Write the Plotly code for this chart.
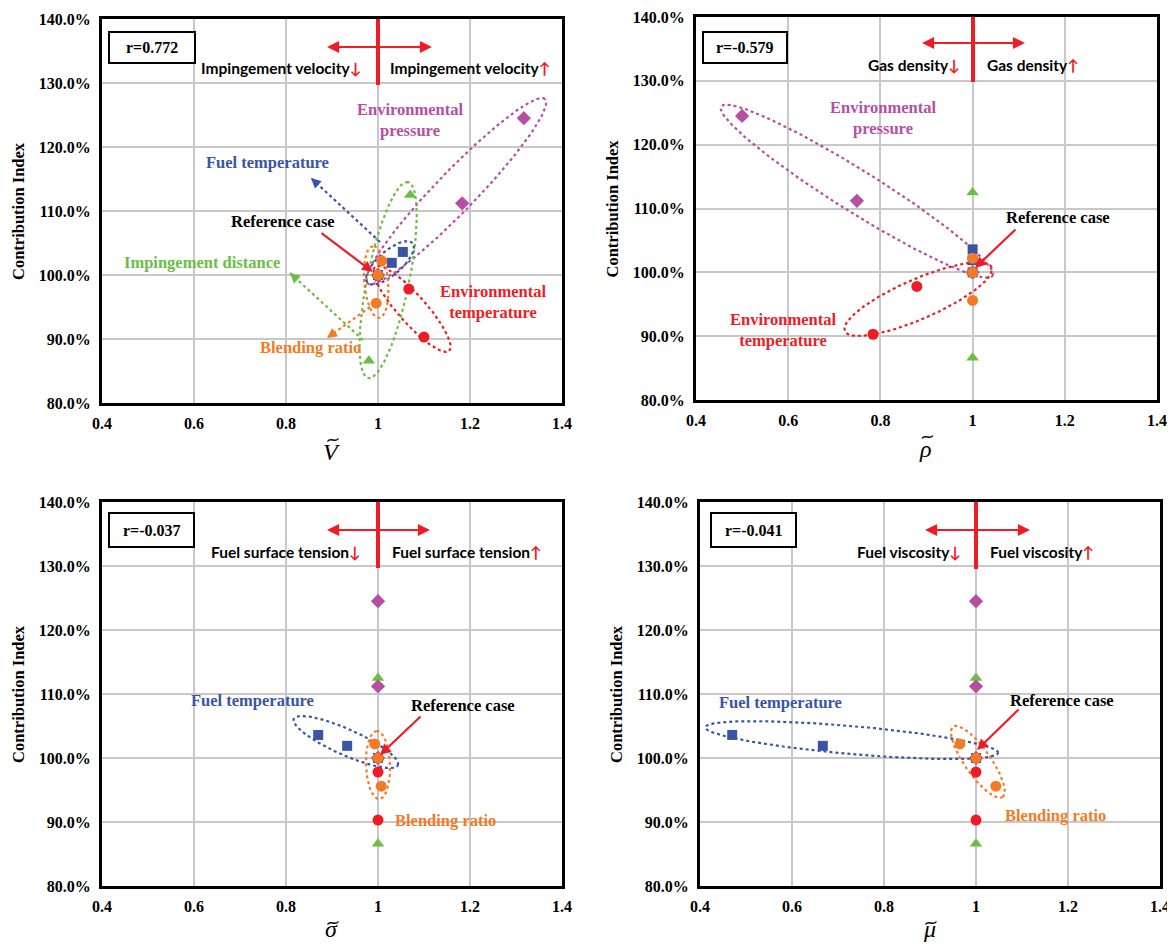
import numpy as np
import plotly.graph_objects as go

# The page body has an 8px default margin; all layout pixel positions below are
# given in window pixels and converted to figure pixels with OFF.
OFF = 8
W, H = 1175 - OFF, 944 - OFF

# ---------------- data ----------------
ci_fuel_temp = [1.000, 1.019, 1.036]
ci_blend = [1.000, 1.022, 0.956]
ci_env_temp = [1.000, 0.978, 0.903]
ci_env_press = [1.000, 1.112, 1.245]
ci_imp_dist = [1.000, 1.125, 0.866]

# panel 1: impingement velocity ratio
V_fuel_temp = [1.000, 1.030, 1.054]
V_blend = [1.000, 1.008, 0.996]
V_env_temp = [1.000, 1.067, 1.100]
V_env_press = [1.000, 1.183, 1.317]
V_imp_dist = [1.000, 1.070, 0.980]

# panel 2: gas density ratio
rho_fuel_temp = [1.000, 1.000, 1.000]
rho_blend = [1.000, 1.000, 1.000]
rho_env_temp = [1.000, 0.879, 0.784]
rho_env_press = [1.000, 0.749, 0.500]
rho_imp_dist = [1.000, 1.000, 1.000]

# panel 3: surface tension ratio
sig_fuel_temp = [1.000, 0.933, 0.870]
sig_blend = [1.000, 0.993, 1.007]
sig_env_temp = [1.000, 1.000, 1.000]
sig_env_press = [1.000, 1.000, 1.000]
sig_imp_dist = [1.000, 1.000, 1.000]

# panel 4: viscosity ratio
mu_fuel_temp = [1.000, 0.667, 0.470]
mu_blend = [1.000, 0.965, 1.043]
mu_env_temp = [1.000, 1.000, 1.000]
mu_env_press = [1.000, 1.000, 1.000]
mu_imp_dist = [1.000, 1.000, 1.000]

r_labels = ["r=0.772", "r=-0.579", "r=-0.037", "r=-0.041"]
x_titles = ["V", "\u03c1", "\u03c3", "\u03bc"]
param_names = ["Impingement velocity", "Gas density", "Fuel surface tension", "Fuel viscosity"]
y_ticks = [0.8, 0.9, 1.0, 1.1, 1.2, 1.3, 1.4]
x_ticks = [0.4, 0.6, 0.8, 1.0, 1.2, 1.4]

# ---------------- styles ----------------
C_BLUE = "#3A55A6"
C_ORANGE = "#F47B25"
C_RED = "#EE1D25"
C_GREEN = "#6CBD45"
C_PURPLE = "#B64FA2"
SERIF = "Liberation Serif"
SANS = "Lato"

# panel pixel boxes in window pixels (left, top, right, bottom)
boxes = [(102, 19, 562, 403), (696, 17, 1157, 400), (102, 502, 562, 886), (700, 502, 1160, 886)]

fig = go.Figure()

panels = [
    (V_fuel_temp, V_blend, V_env_temp, V_env_press, V_imp_dist),
    (rho_fuel_temp, rho_blend, rho_env_temp, rho_env_press, rho_imp_dist),
    (sig_fuel_temp, sig_blend, sig_env_temp, sig_env_press, sig_imp_dist),
    (mu_fuel_temp, mu_blend, mu_env_temp, mu_env_press, mu_imp_dist),
]

def ellipse(i, cx, cy, a, b, ang, color):
    l, t, r, bb = boxes[i]
    sx = (r - l) / 1.0
    sy = (bb - t) / 0.6
    tt = np.linspace(0, 2 * np.pi, 200)
    th = np.radians(ang)
    dx = a * np.cos(th) * np.cos(tt) - b * np.sin(th) * np.sin(tt)
    dy = a * np.sin(th) * np.cos(tt) + b * np.cos(th) * np.sin(tt)
    ax = "x" if i == 0 else f"x{i+1}"
    ay = "y" if i == 0 else f"y{i+1}"
    fig.add_trace(go.Scatter(x=cx + dx / sx, y=cy + dy / sy, mode="lines",
                             line=dict(color=color, width=2.2, dash="dot"),
                             hoverinfo="skip", showlegend=False, xaxis=ax, yaxis=ay))

# ellipses (decoration)
ellipse(0, 1.170, 1.131, 128, 20, 46, C_PURPLE)
ellipse(0, 1.022, 0.992, 100, 21, 78.5, C_GREEN)
ellipse(0, 1.074, 0.947, 56, 14, -48.5, C_RED)
ellipse(0, 1.026, 1.019, 30, 12, 41, C_BLUE)
ellipse(0, 0.996, 0.989, 36, 12, 95, C_ORANGE)
ellipse(1, 0.749, 1.127, 160, 21, -32, C_PURPLE)
ellipse(1, 0.882, 0.958, 80, 20, 23.5, C_RED)
ellipse(2, 0.930, 1.025, 57, 13, -24, C_BLUE)
ellipse(2, 1.000, 0.989, 34, 12, 92, C_ORANGE)
ellipse(3, 0.730, 1.028, 147, 14, -5, C_BLUE)
ellipse(3, 1.004, 0.994, 43, 13, -55, C_ORANGE)

series_style = [
    (4, "Impingement distance", C_GREEN, "triangle-up", 11),
    (3, "Environmental pressure", C_PURPLE, "diamond", 11),
    (2, "Environmental temperature", C_RED, "circle", 11),
    (0, "Fuel temperature", C_BLUE, "square", 10),
    (1, "Blending ratio", C_ORANGE, "circle", 11),
]

for i, data in enumerate(panels):
    ax = "x" if i == 0 else f"x{i+1}"
    ay = "y" if i == 0 else f"y{i+1}"
    cis = [ci_fuel_temp, ci_blend, ci_env_temp, ci_env_press, ci_imp_dist]
    for k, name, col, sym, size in series_style:
        fig.add_trace(go.Scatter(x=data[k], y=cis[k], mode="markers", name=name,
                                 marker=dict(color=col, symbol=sym, size=size, line=dict(width=0)),
                                 showlegend=False, xaxis=ax, yaxis=ay))

annotations = []
shapes = []

def P(px, py):
    return (px - OFF) / W, 1 - (py - OFF) / H

def text(px, py, s, color="black", size=16.5, family=SERIF, xanchor="center", bold=True):
    x, y = P(px, py)
    annotations.append(dict(x=x, y=y, xref="paper", yref="paper", text=(f"<b>{s}</b>" if bold else s),
                            showarrow=False, xanchor=xanchor, yanchor="middle",
                            font=dict(family=family, size=size, color=color)))

def arrow(hx, hy, tx, ty, color, width=2, head=2, size=1.0):
    x, y = P(hx, hy)
    annotations.append(dict(x=x, y=y, xref="paper", yref="paper", text="", showarrow=True,
                            ax=tx - hx, ay=ty - hy, arrowcolor=color, arrowwidth=width,
                            arrowhead=head, arrowsize=size))

def dotted_arrow(sx, sy, hx, hy, color):
    x0, y0 = P(sx, sy)
    x1, y1 = P(hx, hy)
    shapes.append(dict(type="line", xref="paper", yref="paper", x0=x0, y0=y0, x1=x1, y1=y1,
                       line=dict(color=color, width=2.2, dash="dot")))
    d = np.hypot(sx - hx, sy - hy)
    ux, uy = (sx - hx) / d, (sy - hy) / d
    arrow(hx, hy, hx + ux * 9, hy + uy * 9, color, width=2, head=2, size=1.0)

def tilde(cx, cy):
    pts = [P(cx - 5.5, cy + 1.5), P(cx - 2.5, cy - 3.5), P(cx + 2.5, cy + 3.5), P(cx + 5.5, cy - 1.5)]
    path = "M {:.5f},{:.5f} C {:.5f},{:.5f} {:.5f},{:.5f} {:.5f},{:.5f}".format(
        pts[0][0], pts[0][1], pts[1][0], pts[1][1], pts[2][0], pts[2][1], pts[3][0], pts[3][1])
    shapes.append(dict(type="path", xref="paper", yref="paper", path=path,
                       line=dict(color="black", width=1.4)))

# top arrows, r boxes, parameter labels
tops = [
    dict(cx=378, hy=47, l=327, r=432, vt=19, vb=85, ty=68, lr=363, rl=388, box=(109, 32, 195, 63)),
    dict(cx=973, hy=43, l=922, r=1025, vt=17, vb=82, ty=65, lr=962, rl=985, box=(703, 32, 787, 63)),
    dict(cx=378, hy=530, l=327, r=430, vt=502, vb=568, ty=552, lr=363, rl=390, box=(109, 513, 194, 547)),
    dict(cx=976, hy=530, l=925, r=1030, vt=502, vb=569, ty=552, lr=963, rl=988, box=(711, 513, 796, 547)),
]
for i, t in enumerate(tops):
    x0, y0 = P(t["cx"], t["vt"])
    x1, y1 = P(t["cx"], t["vb"])
    shapes.append(dict(type="line", xref="paper", yref="paper", x0=x0, y0=y0, x1=x1, y1=y1,
                       line=dict(color=C_RED, width=4)))
    arrow(t["l"], t["hy"], t["cx"], t["hy"], C_RED, width=2.2, head=2, size=1.1)
    arrow(t["r"], t["hy"], t["cx"], t["hy"], C_RED, width=2.2, head=2, size=1.1)
    text(t["lr"], t["ty"], f"{param_names[i]}<span style='color:{C_RED}'>\u2193</span>", size=15.5,
         family=SANS, xanchor="right")
    text(t["rl"], t["ty"], f"{param_names[i]}<span style='color:{C_RED}'>\u2191</span>", size=15.5,
         family=SANS, xanchor="left")
    bl, bt, br, bb = t["box"]
    a0, b0 = P(bl, bt)
    a1, b1 = P(br, bb)
    shapes.append(dict(type="rect", xref="paper", yref="paper", x0=a0, y0=b1, x1=a1, y1=b0,
                       line=dict(color="black", width=2), fillcolor="white"))
    text((bl + br) / 2, (bt + bb) / 2, r_labels[i], size=16)

# panel 1 labels
text(410, 120, "Environmental<br>pressure", C_PURPLE)
text(267, 163, "Fuel temperature", C_BLUE)
text(283, 222, "Reference case", "black")
text(202, 263, "Impingement distance", C_GREEN)
text(493, 302, "Environmental<br>temperature", C_RED)
text(310, 347, "Blending ratio", C_ORANGE)
arrow(373, 272, 320, 232, C_RED, width=2.2, head=2, size=1.0)
dotted_arrow(380, 242, 311, 178, C_BLUE)
dotted_arrow(363, 340, 290, 273, C_GREEN)
dotted_arrow(370, 307, 327, 338, C_ORANGE)

# panel 2 labels
text(883, 118, "Environmental<br>pressure", C_PURPLE)
text(1058, 218, "Reference case", "black")
text(783, 330, "Environmental<br>temperature", C_RED)
arrow(975, 268, 1017, 228, C_RED, width=2.2, head=2, size=1.0)

# panel 3 labels
text(252, 700, "Fuel temperature", C_BLUE)
text(463, 705, "Reference case", "black")
text(445, 820, "Blending ratio", C_ORANGE)
arrow(380, 755, 422, 715, C_RED, width=2.2, head=2, size=1.0)

# panel 4 labels
text(780, 702, "Fuel temperature", C_BLUE)
text(1062, 700, "Reference case", "black")
text(1055, 815, "Blending ratio", C_ORANGE)
arrow(977, 750, 1020, 708, C_RED, width=2.2, head=2, size=1.0)

# axis titles
for i, (l, t, r, b) in enumerate(boxes):
    x, y = P(l - 84, (t + b) / 2)
    annotations.append(dict(x=x, y=y, xref="paper", yref="paper", text="<b>Contribution Index</b>",
                            textangle=-90, showarrow=False, xanchor="center", yanchor="middle",
                            font=dict(family=SERIF, size=16.5, color="black")))
    cx = (l + r) / 2
    if i < 2:
        x, y = P(cx - 1, b + 49)
        yanchor = "middle"
    else:
        x, _ = P(cx - 1, 0)
        y = 0.0
        yanchor = "bottom"
    tilde(cx + 1, b + 37)
    annotations.append(dict(x=x, y=y, xref="paper", yref="paper", text=f"<i>{x_titles[i]}</i>",
                            showarrow=False, xanchor="center", yanchor=yanchor,
                            font=dict(family=SERIF, size=24, color="black")))

layout = dict(width=W, height=H, margin=dict(l=0, r=0, t=0, b=0, autoexpand=False), plot_bgcolor="white",
              paper_bgcolor="white", showlegend=False, annotations=annotations, shapes=shapes)

for i, (l, t, r, b) in enumerate(boxes):
    xk = "xaxis" if i == 0 else f"xaxis{i+1}"
    yk = "yaxis" if i == 0 else f"yaxis{i+1}"
    xa = "x" if i == 0 else f"x{i+1}"
    ya = "y" if i == 0 else f"y{i+1}"
    xl, _ = P(l, 0)
    xr, _ = P(r, 0)
    _, yb = P(0, b)
    _, yt = P(0, t)
    layout[xk] = dict(domain=[xl, xr], anchor=ya, range=[0.4, 1.4], tickvals=x_ticks,
                      showgrid=True, gridcolor="#c8c8c8", gridwidth=1.5, zeroline=False,
                      showline=True, linecolor="black", linewidth=3, mirror=True, ticks="",
                      tickfont=dict(family=SERIF, size=16, color="black", weight="bold"),
                      ticklabelstandoff=4, automargin=False)
    layout[yk] = dict(domain=[yb, yt], anchor=xa, range=[0.8, 1.4], tickvals=y_ticks,
                      tickformat=".1%", showgrid=True, gridcolor="#c8c8c8", gridwidth=1.5,
                      zeroline=False, showline=True, linecolor="black", linewidth=3, mirror=True,
                      ticks="", tickfont=dict(family=SERIF, size=16, color="black", weight="bold"),
                      ticklabelstandoff=5, automargin=False)

fig.update_layout(**layout)
fig.write_html("out.html")
